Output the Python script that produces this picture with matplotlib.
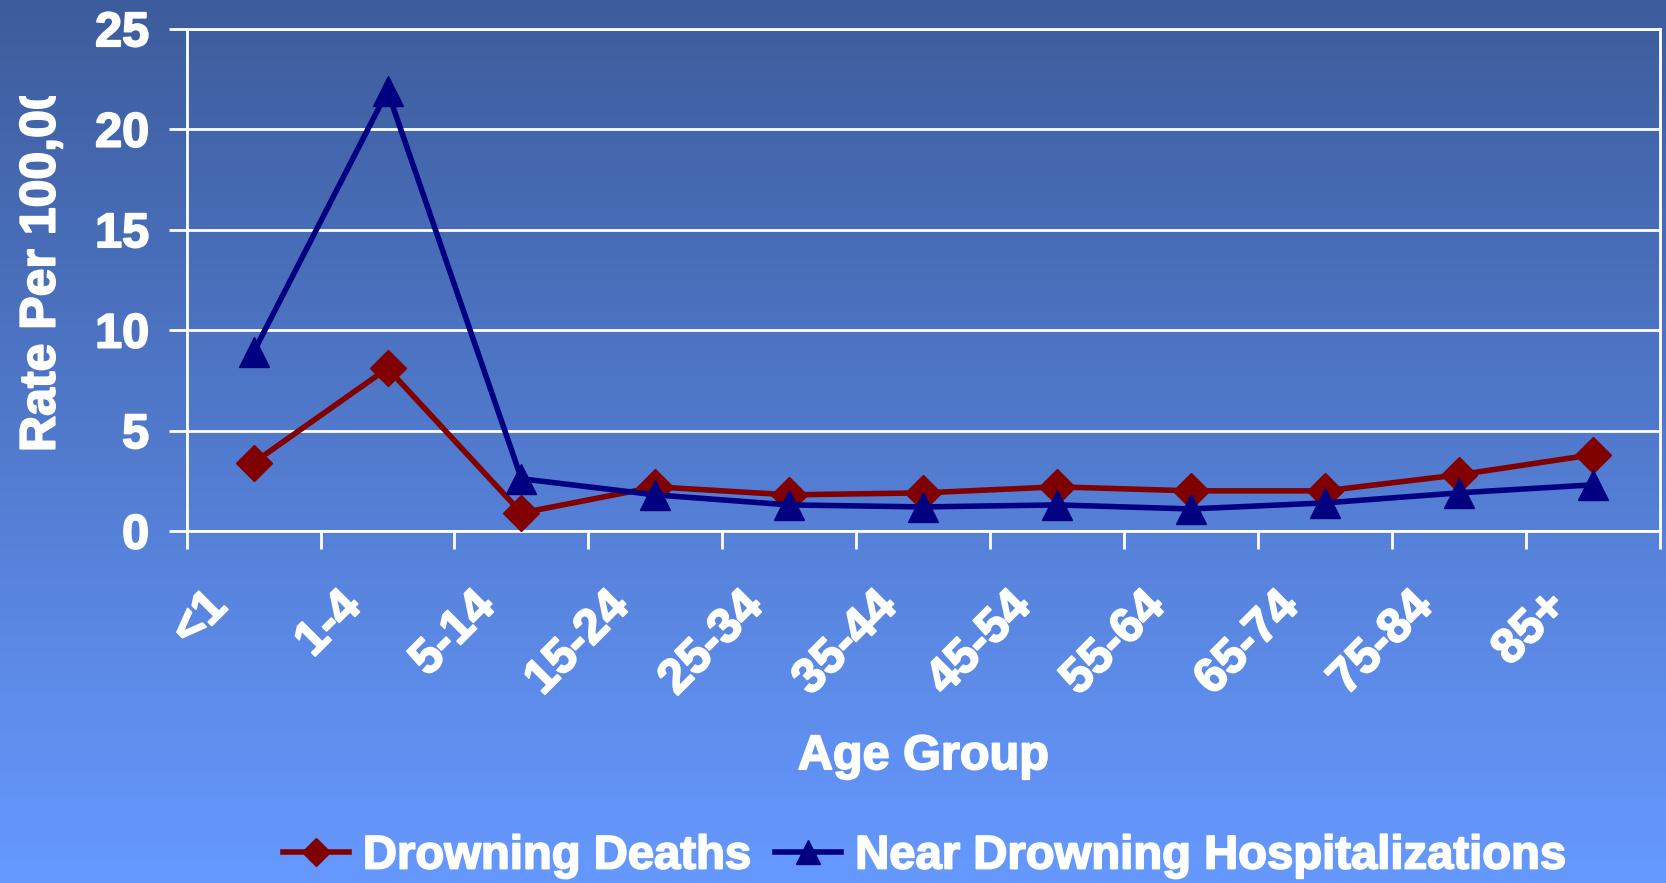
import numpy as np
import matplotlib
matplotlib.use('Agg')
import matplotlib.pyplot as plt
import matplotlib.patheffects as pe
from matplotlib.colors import LinearSegmentedColormap
from matplotlib.transforms import Bbox

age_groups = ['<1', '1-4', '5-14', '15-24', '25-34', '35-44',
              '45-54', '55-64', '65-74', '75-84', '85+']
deaths = [3.4, 8.1, 0.9, 2.2, 1.8, 1.9, 2.2, 2.0, 2.0, 2.8, 3.8]
near_hosp = [8.9, 21.9, 2.6, 1.8, 1.3, 1.2, 1.3, 1.1, 1.4, 1.9, 2.3]

plt.rcParams['font.family'] = ['Liberation Sans', 'DejaVu Sans']
plt.rcParams['font.weight'] = 'bold'

# heavier text, closer to the original's chunky Arial
heavy = [pe.withStroke(linewidth=1.3, foreground='white')]

fig = plt.figure(figsize=(16.66, 8.83), dpi=100)

# gradient background over the whole figure
bg = fig.add_axes([0, 0, 1, 1], zorder=-10)
cmap = LinearSegmentedColormap.from_list('bg', ['#3d5c9c', '#6699ff'])
bg.imshow(np.linspace(0, 1, 256).reshape(-1, 1), aspect='auto', cmap=cmap,
          extent=[0, 1, 0, 1])
bg.set_axis_off()

ax = fig.add_axes([0.112, 0.3986, 0.8844, 0.5689])
ax.patch.set_alpha(0)

x = np.arange(len(age_groups))
ax.plot(x, deaths, color='#800000', lw=4, marker='D', ms=18,
        label='Drowning Deaths', zorder=3)
ax.plot(x, near_hosp, color='#000080', lw=4, marker='^', ms=21,
        label='Near Drowning Hospitalizations', zorder=3)

ax.set_xlim(-0.5, len(age_groups) - 0.5)
ax.set_ylim(0, 25)
ax.set_yticks([0, 5, 10, 15, 20, 25])
ax.yaxis.grid(True, color='white', lw=2)
ax.set_axisbelow(True)
for s in ax.spines.values():
    s.set_color('white')
    s.set_linewidth(2)

# ticks between categories; labels sit a bit left of the centres (PowerPoint style)
ax.set_xticks(np.arange(-0.5, len(age_groups)), minor=False)
ax.set_xticklabels([])
ax.set_xticks(x - 0.37, minor=True)
ax.set_xticklabels(age_groups, minor=True, rotation=45, ha='right',
                   rotation_mode='anchor', fontsize=35, color='white',
                   fontweight='bold')
for lab in ax.get_xticklabels(minor=True):
    lab.set_path_effects(heavy)
ax.tick_params(axis='x', which='major', length=13, width=2, color='white',
               direction='out')
ax.tick_params(axis='x', which='minor', length=0, pad=38)
ax.tick_params(axis='y', length=13, width=2, color='white', direction='out',
               labelsize=35, labelcolor='white', pad=14)
for lab in ax.get_yticklabels():
    lab.set_path_effects(heavy)

ax.set_xlabel('Age Group', fontsize=35, color='white', fontweight='bold',
              labelpad=22, path_effects=heavy)

# y label, clipped at the top like the original
ylab = fig.text(0.025, 1 - 452 / 883, 'Rate Per 100,000', rotation=90,
                ha='center', va='bottom', fontsize=36, color='white',
                fontweight='bold', path_effects=heavy)
ylab.set_clip_box(Bbox.from_extents(0, 0, 1666, 883 - 96))
ylab.set_clip_on(True)

leg = fig.legend(loc='center', bbox_to_anchor=(0.555, 0.03), ncol=2,
                 frameon=False, fontsize=34, labelcolor='white',
                 handlelength=1.4, columnspacing=0.5, handletextpad=0.3,
                 markerscale=0.8)
for t in leg.get_texts():
    t.set_path_effects(heavy)

fig.savefig('out.png', dpi=100)
